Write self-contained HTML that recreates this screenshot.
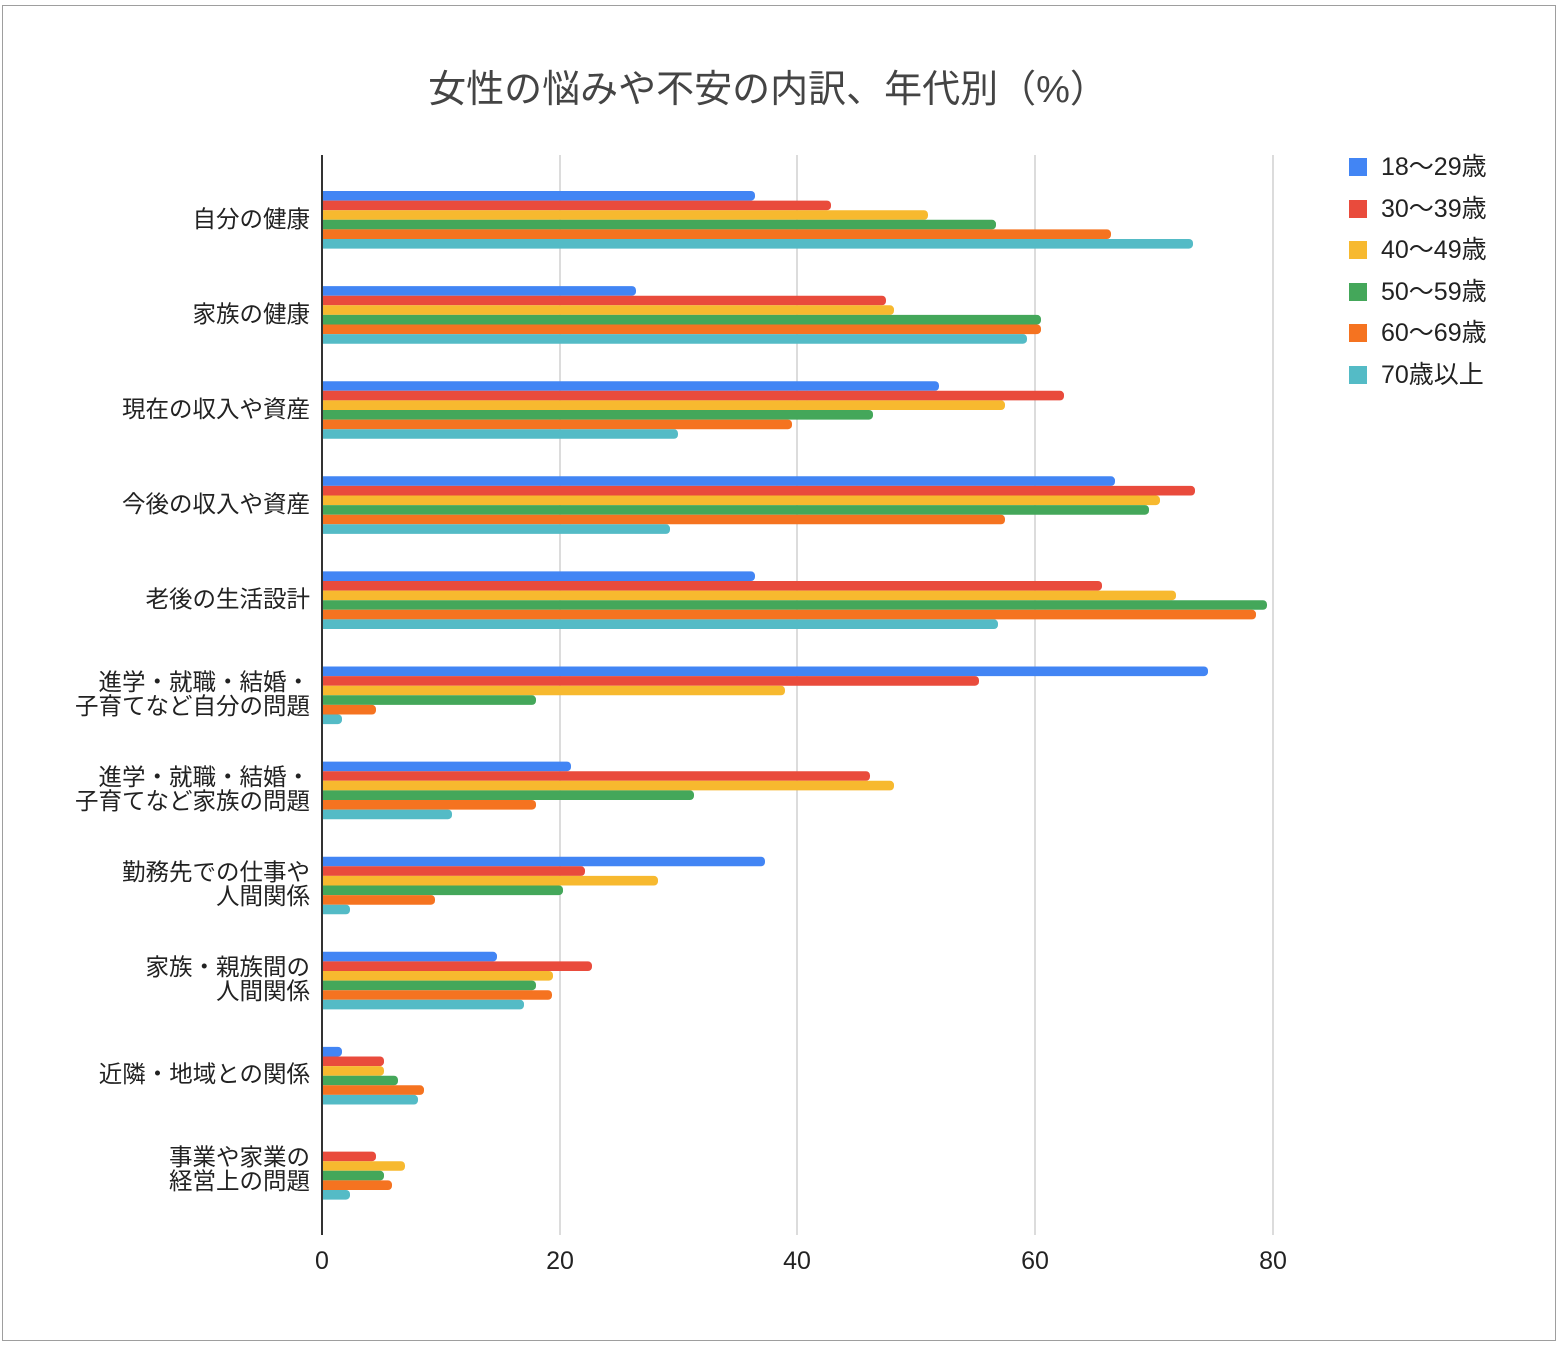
<!DOCTYPE html>
<html><head><meta charset="utf-8"><style>
body{margin:0;background:#fff;}
svg text{font-family:"Liberation Sans","Noto Sans CJK JP",sans-serif;}
.a{fill:#4285f4}.b{fill:#e94b3c}.c{fill:#f7b92f}.d{fill:#44a75a}.e{fill:#f57320}.f{fill:#54bbc6}
</style></head><body>
<svg width="1562" height="1344" xmlns="http://www.w3.org/2000/svg">
<rect x="2.5" y="5.5" width="1553" height="1335" fill="#fff" stroke="#9e9e9e"/>
<text x="768" y="102" font-size="38" text-anchor="middle" fill="#444">女性の悩みや不安の内訳、年代別（%）</text>
<g stroke="#d0d0d0" stroke-width="1.5">
<line x1="560" y1="155" x2="560" y2="1235"/><line x1="797" y1="155" x2="797" y2="1235"/><line x1="1035" y1="155" x2="1035" y2="1235"/><line x1="1273" y1="155" x2="1273" y2="1235"/>
</g>
<g transform="translate(318,191)"><rect class="a" y="0" width="437" height="9.6" rx="4"/><rect class="b" y="9.6" width="513" height="9.6" rx="4"/><rect class="c" y="19.2" width="610" height="9.6" rx="4"/><rect class="d" y="28.8" width="678" height="9.6" rx="4"/><rect class="e" y="38.4" width="793" height="9.6" rx="4"/><rect class="f" y="48" width="875" height="9.6" rx="4"/></g>
<g transform="translate(318,286.1)"><rect class="a" y="0" width="318" height="9.6" rx="4"/><rect class="b" y="9.6" width="568" height="9.6" rx="4"/><rect class="c" y="19.2" width="576" height="9.6" rx="4"/><rect class="d" y="28.8" width="723" height="9.6" rx="4"/><rect class="e" y="38.4" width="723" height="9.6" rx="4"/><rect class="f" y="48" width="709" height="9.6" rx="4"/></g>
<g transform="translate(318,381.2)"><rect class="a" y="0" width="621" height="9.6" rx="4"/><rect class="b" y="9.6" width="746" height="9.6" rx="4"/><rect class="c" y="19.2" width="687" height="9.6" rx="4"/><rect class="d" y="28.8" width="555" height="9.6" rx="4"/><rect class="e" y="38.4" width="474" height="9.6" rx="4"/><rect class="f" y="48" width="360" height="9.6" rx="4"/></g>
<g transform="translate(318,476.3)"><rect class="a" y="0" width="797" height="9.6" rx="4"/><rect class="b" y="9.6" width="877" height="9.6" rx="4"/><rect class="c" y="19.2" width="842" height="9.6" rx="4"/><rect class="d" y="28.8" width="831" height="9.6" rx="4"/><rect class="e" y="38.4" width="687" height="9.6" rx="4"/><rect class="f" y="48" width="352" height="9.6" rx="4"/></g>
<g transform="translate(318,571.4)"><rect class="a" y="0" width="437" height="9.6" rx="4"/><rect class="b" y="9.6" width="784" height="9.6" rx="4"/><rect class="c" y="19.2" width="858" height="9.6" rx="4"/><rect class="d" y="28.8" width="949" height="9.6" rx="4"/><rect class="e" y="38.4" width="938" height="9.6" rx="4"/><rect class="f" y="48" width="680" height="9.6" rx="4"/></g>
<g transform="translate(318,666.5)"><rect class="a" y="0" width="890" height="9.6" rx="4"/><rect class="b" y="9.6" width="661" height="9.6" rx="4"/><rect class="c" y="19.2" width="467" height="9.6" rx="4"/><rect class="d" y="28.8" width="218" height="9.6" rx="4"/><rect class="e" y="38.4" width="58" height="9.6" rx="4"/><rect class="f" y="48" width="24" height="9.6" rx="4"/></g>
<g transform="translate(318,761.6)"><rect class="a" y="0" width="253" height="9.6" rx="4"/><rect class="b" y="9.6" width="552" height="9.6" rx="4"/><rect class="c" y="19.2" width="576" height="9.6" rx="4"/><rect class="d" y="28.8" width="376" height="9.6" rx="4"/><rect class="e" y="38.4" width="218" height="9.6" rx="4"/><rect class="f" y="48" width="134" height="9.6" rx="4"/></g>
<g transform="translate(318,856.7)"><rect class="a" y="0" width="447" height="9.6" rx="4"/><rect class="b" y="9.6" width="267" height="9.6" rx="4"/><rect class="c" y="19.2" width="340" height="9.6" rx="4"/><rect class="d" y="28.8" width="245" height="9.6" rx="4"/><rect class="e" y="38.4" width="117" height="9.6" rx="4"/><rect class="f" y="48" width="32" height="9.6" rx="4"/></g>
<g transform="translate(318,951.8)"><rect class="a" y="0" width="179" height="9.6" rx="4"/><rect class="b" y="9.6" width="274" height="9.6" rx="4"/><rect class="c" y="19.2" width="235" height="9.6" rx="4"/><rect class="d" y="28.8" width="218" height="9.6" rx="4"/><rect class="e" y="38.4" width="234" height="9.6" rx="4"/><rect class="f" y="48" width="206" height="9.6" rx="4"/></g>
<g transform="translate(318,1046.9)"><rect class="a" y="0" width="24" height="9.6" rx="4"/><rect class="b" y="9.6" width="66" height="9.6" rx="4"/><rect class="c" y="19.2" width="66" height="9.6" rx="4"/><rect class="d" y="28.8" width="80" height="9.6" rx="4"/><rect class="e" y="38.4" width="106" height="9.6" rx="4"/><rect class="f" y="48" width="100" height="9.6" rx="4"/></g>
<g transform="translate(318,1142)"><rect class="b" y="9.6" width="58" height="9.6" rx="4"/><rect class="c" y="19.2" width="87" height="9.6" rx="4"/><rect class="d" y="28.8" width="66" height="9.6" rx="4"/><rect class="e" y="38.4" width="74" height="9.6" rx="4"/><rect class="f" y="48" width="32" height="9.6" rx="4"/></g>
<rect x="312" y="155" width="9.5" height="1080" fill="#fff"/>
<line x1="322" y1="155" x2="322" y2="1235" stroke="#333" stroke-width="2"/>
<g font-size="25" fill="#222" text-anchor="middle">
<text x="322" y="1269">0</text><text x="560" y="1269">20</text><text x="797" y="1269">40</text><text x="1035" y="1269">60</text><text x="1273" y="1269">80</text>
</g>
<g font-size="23.5" fill="#222" text-anchor="end">
<text x="310" y="227">自分の健康</text>
<text x="310" y="322">家族の健康</text>
<text x="310" y="417">現在の収入や資産</text>
<text x="310" y="512">今後の収入や資産</text>
<text x="310" y="607">老後の生活設計</text>
<text x="310" y="690">進学・就職・結婚・</text><text x="310" y="714">子育てなど自分の問題</text>
<text x="310" y="785">進学・就職・結婚・</text><text x="310" y="809">子育てなど家族の問題</text>
<text x="310" y="880">勤務先での仕事や</text><text x="310" y="904">人間関係</text>
<text x="310" y="975">家族・親族間の</text><text x="310" y="999">人間関係</text>
<text x="310" y="1082">近隣・地域との関係</text>
<text x="310" y="1165">事業や家業の</text><text x="310" y="1189">経営上の問題</text>
</g>
<g font-size="25" fill="#222">
<rect x="1349" y="158" width="18" height="18" class="a"/><text x="1381" y="175">18〜29歳</text>
<rect x="1349" y="200" width="18" height="18" class="b"/><text x="1381" y="217">30〜39歳</text>
<rect x="1349" y="241" width="18" height="18" class="c"/><text x="1381" y="258">40〜49歳</text>
<rect x="1349" y="283" width="18" height="18" class="d"/><text x="1381" y="300">50〜59歳</text>
<rect x="1349" y="324" width="18" height="18" class="e"/><text x="1381" y="341">60〜69歳</text>
<rect x="1349" y="366" width="18" height="18" class="f"/><text x="1381" y="383">70歳以上</text>
</g>
</svg>
</body></html>
